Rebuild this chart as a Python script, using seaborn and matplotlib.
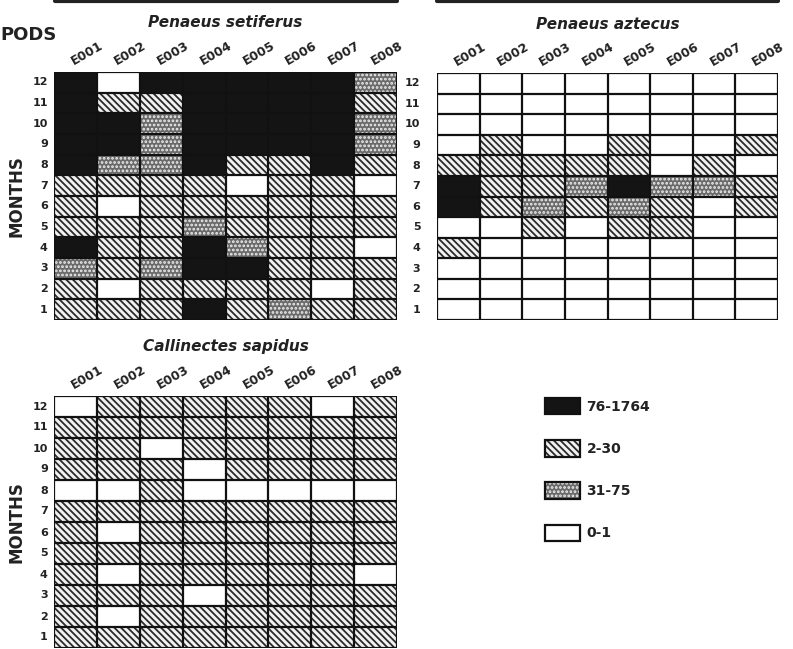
import seaborn as sns
import matplotlib.pyplot as plt
import matplotlib.transforms as mtransforms
from matplotlib.colors import ListedColormap
from matplotlib.patches import Rectangle, Patch
from matplotlib.lines import Line2D
from matplotlib.legend_handler import HandlerTuple
import numpy as np
import pandas as pd

sns.set_style("white")
plt.rcParams["font.family"] = ["DejaVu Sans"]
plt.rcParams["hatch.linewidth"] = 1.3

# categories (0 = "0-1", 1 = "2-30", 2 = "31-75", 3 = "76-1764")
categories = ["0-1", "2-30", "31-75", "76-1764"]
legend_order = [3, 1, 2, 0]
stations = ["E001", "E002", "E003", "E004", "E005", "E006", "E007", "E008"]
months = [12, 11, 10, 9, 8, 7, 6, 5, 4, 3, 2, 1]

setiferus = [
    [3, 0, 3, 3, 3, 3, 3, 2],
    [3, 1, 1, 3, 3, 3, 3, 1],
    [3, 3, 2, 3, 3, 3, 3, 2],
    [3, 3, 2, 3, 3, 3, 3, 2],
    [3, 2, 2, 3, 1, 1, 3, 1],
    [1, 1, 1, 1, 0, 1, 1, 0],
    [1, 0, 1, 1, 1, 1, 1, 1],
    [1, 1, 1, 2, 1, 1, 1, 1],
    [3, 1, 1, 3, 2, 1, 1, 0],
    [2, 1, 2, 3, 3, 1, 1, 1],
    [1, 0, 1, 1, 1, 1, 0, 1],
    [1, 1, 1, 3, 1, 2, 1, 1],
]
aztecus = [
    [0, 0, 0, 0, 0, 0, 0, 0],
    [0, 0, 0, 0, 0, 0, 0, 0],
    [0, 0, 0, 0, 0, 0, 0, 0],
    [0, 1, 0, 0, 1, 0, 0, 1],
    [1, 1, 1, 1, 1, 0, 1, 0],
    [3, 1, 1, 2, 3, 2, 2, 1],
    [3, 1, 2, 1, 2, 1, 0, 1],
    [0, 0, 1, 0, 1, 1, 0, 0],
    [1, 0, 0, 0, 0, 0, 0, 0],
    [0, 0, 0, 0, 0, 0, 0, 0],
    [0, 0, 0, 0, 0, 0, 0, 0],
    [0, 0, 0, 0, 0, 0, 0, 0],
]
sapidus = [
    [0, 1, 1, 1, 1, 1, 0, 1],
    [1, 1, 1, 1, 1, 1, 1, 1],
    [1, 1, 0, 1, 1, 1, 1, 1],
    [1, 1, 1, 0, 1, 1, 1, 1],
    [0, 0, 1, 0, 0, 0, 0, 0],
    [1, 1, 1, 1, 1, 1, 1, 1],
    [1, 0, 1, 1, 1, 1, 1, 1],
    [1, 1, 1, 1, 1, 1, 1, 1],
    [1, 0, 1, 1, 1, 1, 1, 0],
    [1, 1, 1, 0, 1, 1, 1, 1],
    [1, 0, 1, 1, 1, 1, 1, 1],
    [1, 1, 1, 1, 1, 1, 1, 1],
]

face_colors = ["#ffffff", "#f2f2f2", "#6a6a6a", "#141414"]
hatches = [None, "\\\\\\\\\\", "....", None]
hatch_colors = [None, "#2a2a2a", "#f0f0f0", None]

W, H = 793, 649
fig = plt.figure(figsize=(W / 100, H / 100), dpi=100)


def px_axes(left, top, right, bottom):
    return fig.add_axes([left / W, 1 - bottom / H, (right - left) / W, (bottom - top) / H])


def draw_panel(ax, values, title, ylab_pad, show_ylabel):
    df = pd.DataFrame(values, index=months, columns=stations)
    sns.heatmap(df, ax=ax, cmap=ListedColormap(face_colors), vmin=-0.5, vmax=3.5,
                cbar=False, linewidths=0)
    # hatch overlay for the patterned classes
    for i, row in enumerate(values):
        for j, v in enumerate(row):
            if hatches[v]:
                ax.add_patch(Rectangle((j, i), 1, 1, facecolor="none", edgecolor=hatch_colors[v],
                                       linewidth=0, hatch=hatches[v]))
    ax.hlines(np.arange(len(months) + 1), 0, len(stations), color="#111111", lw=1.6, zorder=4)
    ax.vlines(np.arange(len(stations) + 1), 0, len(months), color="#111111", lw=1.6, zorder=4)
    ax.xaxis.tick_top()
    ax.set_xticklabels(stations, rotation=30, ha="left", rotation_mode="anchor",
                       fontsize=9, fontweight="bold", color="#222222")
    shift = mtransforms.ScaledTranslation(-0.08, 0, fig.dpi_scale_trans)
    for lab in ax.get_xticklabels():
        lab.set_transform(lab.get_transform() + shift)
    ax.set_yticklabels(months, rotation=0, fontsize=8, fontweight="bold", color="#222222")
    ax.tick_params(axis="both", length=0)
    ax.tick_params(axis="x", pad=3)
    ax.tick_params(axis="y", pad=ylab_pad)
    ax.set_xlabel("")
    if show_ylabel:
        ax.set_ylabel("MONTHS", fontsize=12, fontweight="bold", color="#222222")
        ax.yaxis.set_label_coords(-29 / 343, 0.5)
    else:
        ax.set_ylabel("")
    ax.set_title(title, fontsize=11, fontweight="bold", style="italic", color="#222222",
                 y=1.18, pad=0)


ax1 = px_axes(54, 72, 397, 320)
ax2 = px_axes(437, 73, 778, 320)
ax3 = px_axes(54, 396, 397, 648)

draw_panel(ax1, setiferus, "Penaeus setiferus", 4.5, True)
draw_panel(ax2, aztecus, "Penaeus aztecus", 12, False)
draw_panel(ax3, sapidus, "Callinectes sapidus", 4.5, True)

# cut-off pieces of the panels above
fig.add_artist(Line2D([55 / W, 397 / W], [1 - 1 / H, 1 - 1 / H], color="#222222", lw=3))
fig.add_artist(Line2D([437 / W, 778 / W], [1 - 1 / H, 1 - 1 / H], color="#222222", lw=3))
fig.text(0, 1 - 35 / H, "PODS", fontsize=13, fontweight="bold", va="center", ha="left",
         color="#222222")

# legend: face + hatch layer, then black outline on top
handles = []
for k in legend_order:
    fill = Patch(facecolor=face_colors[k], edgecolor=hatch_colors[k] or face_colors[k],
                 hatch=hatches[k], linewidth=0)
    outline = Patch(facecolor="none", edgecolor="#111111", linewidth=1.6)
    handles.append((fill, outline))
fig.legend(handles, [categories[k] for k in legend_order], loc="upper left",
           bbox_to_anchor=(538 / W, 1 - 391 / H), frameon=False, borderpad=0,
           handlelength=2.5, handleheight=1.45, labelspacing=1.85, handletextpad=0.5,
           handler_map={tuple: HandlerTuple(ndivide=1, pad=0)},
           prop={"size": 10, "weight": "bold"}, labelcolor="#222222")

fig.savefig("out.png", dpi=100, facecolor="white")
